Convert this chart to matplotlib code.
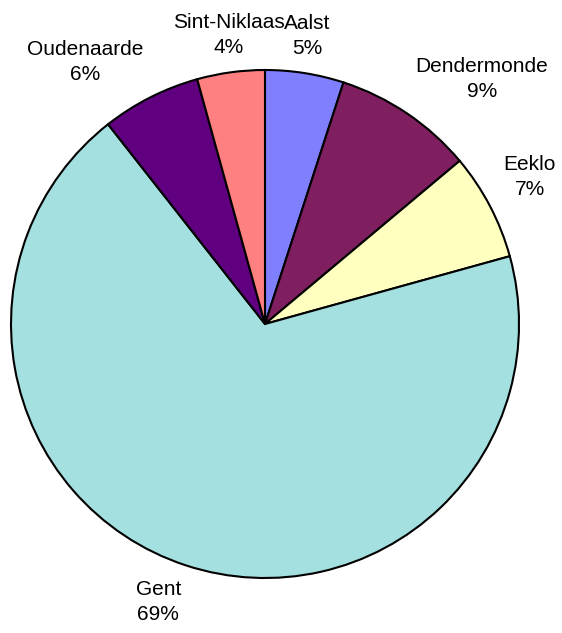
import numpy as np
import matplotlib
matplotlib.use("Agg")
import matplotlib.pyplot as plt

# Share per city (percent), clockwise from 12 o'clock
cities = ["Aalst", "Dendermonde", "Eeklo", "Gent", "Oudenaarde", "Sint-Niklaas"]
shares = [5.0, 8.9, 6.8, 68.7, 6.3, 4.3]
colors = ["#8080FF", "#7F1F5F", "#FFFFC0", "#A4E0E0", "#600080", "#FF8080"]

plt.rcParams["font.family"] = ["Liberation Sans", "DejaVu Sans"]

fig = plt.figure(figsize=(5.62, 6.33), dpi=100)
ax = fig.add_axes([0, 0, 1, 1])

wedges, _ = ax.pie(
    shares,
    colors=colors,
    startangle=90,
    counterclock=False,
    radius=1.0,
    wedgeprops=dict(edgecolor="black", linewidth=1.5),
)

# Excel-style outside labels: anchored at a point just past the rim
total = sum(shares)
for w, name, val in zip(wedges, cities, shares):
    mid = np.deg2rad((w.theta1 + w.theta2) / 2)
    cx, cy = np.cos(mid), np.sin(mid)
    if abs(cx) < 0.2:
        ha = "center"
    else:
        ha = "left" if cx > 0 else "right"
    va = "bottom" if cy > 0 else "top"
    ax.text(
        1.06 * cx,
        1.06 * cy,
        f"{name}\n{val / total * 100:.0f}%",
        ha=ha,
        va=va,
        multialignment="center",
        linespacing=1.4,
        fontsize=15,
        color="black",
    )

# pie centre at (265, 324) px, radius 254 px
r_px = 254
ax.set_xlim(-265 / r_px, (562 - 265) / r_px)
ax.set_ylim(-(633 - 324) / r_px, 324 / r_px)
ax.set_aspect("auto")
ax.axis("off")

fig.savefig("out.png", dpi=100, facecolor="white")
